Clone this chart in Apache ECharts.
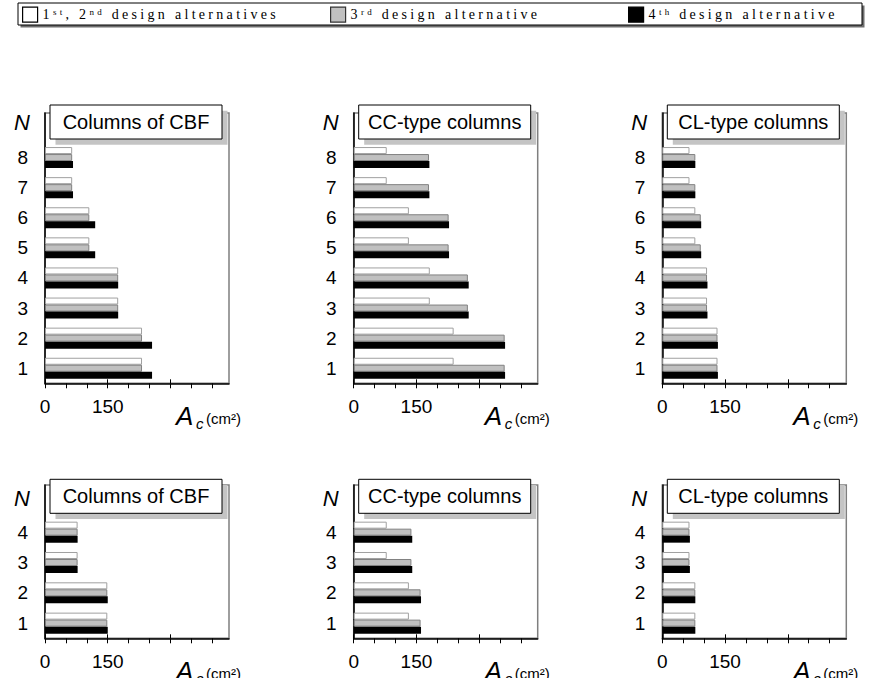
<!DOCTYPE html>
<html>
<head>
<meta charset="utf-8">
<script src="https://cdn.jsdelivr.net/npm/echarts@6/dist/echarts.min.js"></script>
<style>
  html, body { margin: 0; padding: 0; background: #fff; }
  #chart { width: 872px; height: 678px; }
  /* widely tracked serif legend lettering */
  #chart text[style*="Liberation Serif"] { letter-spacing: 3.3px; }
</style>
</head>
<body>
<div id="chart"></div>
<script>
// ---- data -------------------------------------------------------------
const seriesNames = ['1st, 2nd design alternatives', '3rd design alternative', '4th design alternative'];
// legend text split into normal (n) and superscript (s) runs
const legendRuns = [
  [['n', '1'], ['s', 'st'], ['n', ', 2'], ['s', 'nd'], ['n', ' design alternatives']],
  [['n', '3'], ['s', 'rd'], ['n', ' design alternative']],
  [['n', '4'], ['s', 'th'], ['n', ' design alternative']]
];
const panelTitles = ['Columns of CBF', 'CC-type columns', 'CL-type columns'];
const storeys8 = ['1', '2', '3', '4', '5', '6', '7', '8'];
const storeys4 = ['1', '2', '3', '4'];
const xTickValues = [0, 50, 100, 150, 200, 250, 300, 350, 400];
const xMajorTicks = [0, 150, 300];
const xLabelValues = [0, 150];

// 8-storey building, column areas Ac (cm2), storey 1..8
const cbf8Alt12 = [232, 232, 175, 175, 106, 106, 65, 65];
const cbf8Alt3  = [232, 232, 175, 175, 106, 106, 65, 65];
const cbf8Alt4  = [256, 256, 175, 175, 120, 120, 67, 67];
const cc8Alt12  = [239, 239, 182, 182, 132, 132, 79, 79];
const cc8Alt3   = [361, 361, 273, 273, 227, 227, 180, 180];
const cc8Alt4   = [362, 362, 275, 275, 228, 228, 181, 181];
const cl8Alt12  = [132, 132, 107, 107, 79, 79, 65, 65];
const cl8Alt3   = [132, 132, 107, 107, 92, 92, 79, 79];
const cl8Alt4   = [133, 133, 108, 108, 93, 93, 79, 79];

// 4-storey building, storey 1..4
const cbf4Alt12 = [149, 149, 78, 78];
const cbf4Alt3  = [149, 149, 78, 78];
const cbf4Alt4  = [150, 150, 78, 78];
const cc4Alt12  = [132, 132, 79, 79];
const cc4Alt3   = [160, 160, 138, 138];
const cc4Alt4   = [161, 161, 140, 140];
const cl4Alt12  = [79, 79, 65, 65];
const cl4Alt3   = [79, 79, 65, 65];
const cl4Alt4   = [79, 79, 66, 66];

// ---- layout -----------------------------------------------------------
const xMax = 440;
const colLeft = [45, 353.7, 662.3];
const plotW = 184;
const rows = [
  { frameTop: 113, axisY: 383.3, bandTop: 142.5, boxTop: 105, nY: 122 },
  { frameTop: 485, axisY: 638.3, bandTop: 517, boxTop: 479.3, nY: 498.7 }
];
const panels = [
  { row: 0, col: 0, cats: storeys8, data: [cbf8Alt12, cbf8Alt3, cbf8Alt4] },
  { row: 0, col: 1, cats: storeys8, data: [cc8Alt12, cc8Alt3, cc8Alt4] },
  { row: 0, col: 2, cats: storeys8, data: [cl8Alt12, cl8Alt3, cl8Alt4] },
  { row: 1, col: 0, cats: storeys4, data: [cbf4Alt12, cbf4Alt3, cbf4Alt4] },
  { row: 1, col: 1, cats: storeys4, data: [cc4Alt12, cc4Alt3, cc4Alt4] },
  { row: 1, col: 2, cats: storeys4, data: [cl4Alt12, cl4Alt3, cl4Alt4] }
];
const barStyles = [
  { color: '#ffffff', borderColor: '#a0a0a0', borderWidth: 1 },
  { color: '#c0c0c0', borderColor: '#808080', borderWidth: 1 },
  { color: '#000000', borderColor: '#000000', borderWidth: 0 }
];
const legendIconStyles = [
  { color: '#ffffff', borderColor: '#000', borderWidth: 1.2 },
  { color: '#c0c0c0', borderColor: '#333', borderWidth: 1.2 },
  { color: '#000000', borderColor: '#000', borderWidth: 1.2 }
];
const legendLeft = [22, 330, 628];

const SANS = '"Liberation Sans", Arial, sans-serif';
const SERIF = '"Liberation Serif", "Times New Roman", serif';
const LS = 3.3; // matches the CSS letter-spacing above

const option = {
  animation: false,
  backgroundColor: '#fff',
  grid: [], xAxis: [], yAxis: [], series: [], legend: [], graphic: []
};

// legend frame with drop shadow
option.graphic.push(
  { type: 'rect', z: 1, shape: { x: 20.5, y: 5.5, width: 844, height: 22 }, style: { fill: '#6e6e6e' } },
  { type: 'rect', z: 2, shape: { x: 18, y: 3, width: 844, height: 22 }, style: { fill: '#fff', stroke: '#000', lineWidth: 1 } }
);

// rich styles whose right padding absorbs the extra tracking of each run
const legendRich = {};
for (let n = 1; n <= 30; n++) {
  legendRich['n' + n] = { fontFamily: SERIF, fontSize: 14, color: '#000', padding: [0, n * LS, 0, 0] };
  legendRich['s' + n] = { fontFamily: SERIF, fontSize: 9, color: '#000', verticalAlign: 'top', padding: [0, n * LS, 0, 0] };
}
seriesNames.forEach((name, k) => {
  option.legend.push({
    left: legendLeft[k], top: 6.5, z: 5, padding: 0,
    selectedMode: false,
    itemWidth: 15, itemHeight: 15, itemGap: 0,
    icon: 'rect',
    data: [{ name: name, itemStyle: legendIconStyles[k] }],
    formatter: () => legendRuns[k].map(([t, s]) => '{' + t + s.length + '|' + s + '}').join(''),
    textStyle: { fontFamily: SERIF, fontSize: 14, color: '#000', rich: legendRich }
  });
});

panels.forEach((p) => {
  const L = colLeft[p.col];
  const R = rows[p.row];

  // frame grid: axes, ticks and the grey right/top border
  const gf = option.grid.length;
  option.grid.push({ left: L, top: R.frameTop, width: plotW, height: R.axisY - R.frameTop,
                     show: true, borderColor: '#7f7f7f', borderWidth: 1.5, backgroundColor: 'transparent' });
  option.xAxis.push({
    gridIndex: gf, type: 'value', position: 'bottom', min: 0, max: xMax,
    axisLine: { show: true, lineStyle: { color: '#000', width: 1.5 } },
    axisTick: { show: true, customValues: xTickValues, length: 5, lineStyle: { color: '#000', width: 1 } },
    axisLabel: { customValues: xLabelValues, margin: 14, fontFamily: SANS, fontSize: 19, color: '#000' },
    splitLine: { show: false }
  });
  option.xAxis.push({
    gridIndex: gf, type: 'value', position: 'bottom', offset: 0, min: 0, max: xMax,
    axisLine: { show: false },
    axisTick: { show: true, inside: true, customValues: xMajorTicks, length: 4, lineStyle: { color: '#000', width: 1 } },
    axisLabel: { show: false },
    splitLine: { show: false }
  });
  option.yAxis.push({
    gridIndex: gf, type: 'value', min: 0, max: 1,
    axisLine: { show: true, lineStyle: { color: '#000', width: 1.5 } },
    axisTick: { show: false }, axisLabel: { show: false }, splitLine: { show: false }
  });

  // data grid: storey bands
  const gd = option.grid.length;
  option.grid.push({ left: L, top: R.bandTop, width: plotW, height: R.axisY - R.bandTop, show: false });
  option.xAxis.push({ gridIndex: gd, type: 'value', min: 0, max: xMax, show: false });
  option.yAxis.push({
    gridIndex: gd, type: 'category', data: p.cats,
    axisLine: { show: false }, axisTick: { show: false }, splitLine: { show: false },
    axisLabel: { margin: 17, fontFamily: SANS, fontSize: 19, color: '#000' }
  });
  const xi = option.xAxis.length - 1;
  const yi = option.yAxis.length - 1;
  [0, 1, 2].forEach((k) => {
    option.series.push({
      type: 'bar', name: seriesNames[k], xAxisIndex: xi, yAxisIndex: yi,
      data: p.data[k], barWidth: 7, barGap: '0%', silent: true,
      itemStyle: barStyles[k]
    });
  });

  // panel title box with offset shadow
  option.graphic.push(
    { type: 'rect', z: 10, shape: { x: L + 10.5, y: R.boxTop + 5.7, width: 172, height: 34 }, style: { fill: '#c4c4c4' } },
    { type: 'rect', z: 11, shape: { x: L + 5, y: R.boxTop, width: 172, height: 34 }, style: { fill: '#fff', stroke: '#000', lineWidth: 1 } },
    { type: 'text', z: 12, x: L + 91, y: R.boxTop + 17,
      style: { text: panelTitles[p.col], fontFamily: SANS, fontSize: 20, fill: '#000', align: 'center', verticalAlign: 'middle' } },
    // axis names
    { type: 'text', z: 12, x: L - 23, y: R.nY,
      style: { text: 'N', fontFamily: SANS, fontStyle: 'italic', fontSize: 22, fill: '#000', align: 'center', verticalAlign: 'middle' } },
    { type: 'text', z: 12, x: L + 131, y: R.axisY + 33,
      style: { text: 'A', fontFamily: SANS, fontStyle: 'italic', fontSize: 26, fill: '#000', align: 'left', verticalAlign: 'middle' } },
    { type: 'text', z: 12, x: L + 151, y: R.axisY + 40,
      style: { text: 'c', fontFamily: SANS, fontStyle: 'italic', fontSize: 15, fill: '#000', align: 'left', verticalAlign: 'middle' } },
    { type: 'text', z: 12, x: L + 161, y: R.axisY + 35,
      style: { text: '(cm²)', fontFamily: SANS, fontSize: 15, fill: '#000', align: 'left', verticalAlign: 'middle' } }
  );
});

const chart = echarts.init(document.getElementById('chart'), null, { renderer: 'svg' });
chart.setOption(option);
</script>
</body>
</html>
